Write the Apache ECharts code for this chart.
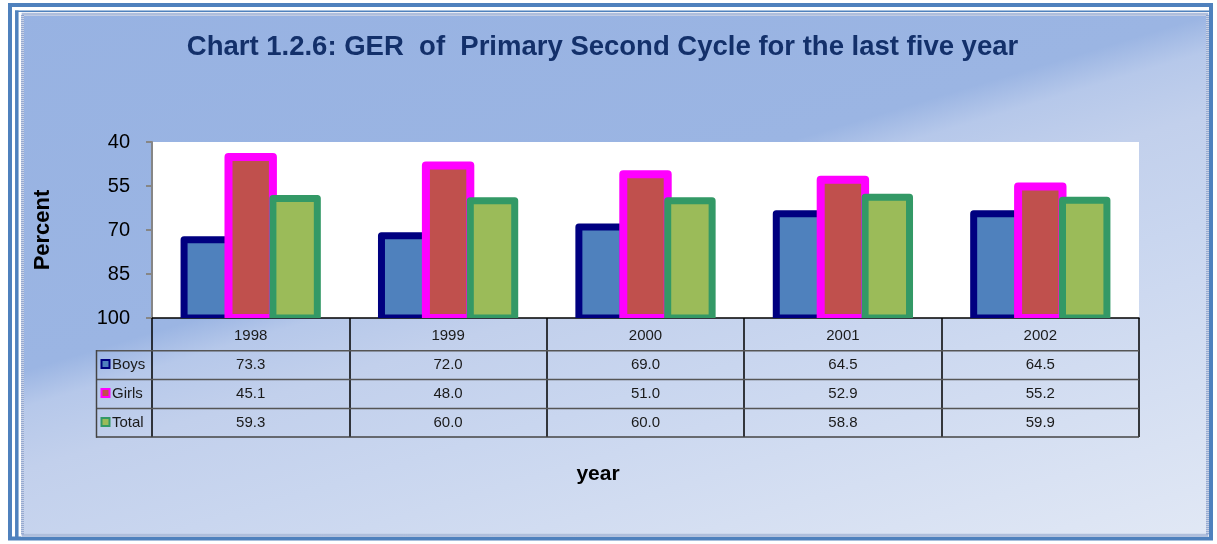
<!DOCTYPE html>
<html><head><meta charset="utf-8">
<script src="https://cdn.jsdelivr.net/npm/echarts@6/dist/echarts.min.js"></script>
<style>html,body{margin:0;padding:0;background:#fff;}#c{width:1217px;height:544px;}</style>
</head><body><div id="c"></div>
<script>
// ---- data ----
const years = ['1998', '1999', '2000', '2001', '2002'];
const seriesNames = ['Boys', 'Girls', 'Total'];
const boys = [73.3, 72.0, 69.0, 64.5, 64.5];
const girls = [45.1, 48.0, 51.0, 52.9, 55.2];
const total = [59.3, 60.0, 60.0, 58.8, 59.9];
const yTicks = [40, 55, 70, 85, 100];
const titleText = 'Chart 1.2.6: GER  of  Primary Second Cycle for the last five year';
const yName = 'Percent';
const xName = 'year';

// ---- styling ----
const FONT = '"Liberation Sans", Arial, Helvetica, sans-serif';
const values = [boys, girls, total];
const fills = ['#4f81bd', '#c0504d', '#9bbb59'];
const borders = ['#000080', '#ff00ff', '#339966'];
const borderW = [7, 8, 7];
const yMin = yTicks[0], yMax = yTicks[yTicks.length - 1];
const rowOffsets = [29.5, 58.5, 87.5];

const chart = echarts.init(document.getElementById('c'), null, {renderer: 'canvas'});

function makeSeries(k) {
  return {
    type: 'custom', name: seriesNames[k], clip: true, z: 2 + k,
    data: years.map((y, i) => [i, values[k][i]]),
    encode: {x: 0, y: 1},
    renderItem(params, api) {
      const i = api.value(0), v = api.value(1);
      const top = api.coord([i, v]);
      const base = api.coord([i, yMax]);
      const band = api.size([1, 0])[0];
      const w = band * 0.225;
      const cx = top[0] + (k - 1) * w;
      return {
        type: 'rect',
        shape: {x: cx - w / 2, y: top[1], width: w, height: base[1] - top[1]},
        style: {fill: fills[k], stroke: borders[k], lineWidth: borderW[k], lineJoin: 'round'}
      };
    }
  };
}

const bgGradient = new echarts.graphic.LinearGradient(0, 0, 248, 826, [
  {offset: 0, color: '#97b2e2'},
  {offset: 0.42, color: '#9bb5e3'},
  {offset: 0.46, color: '#b6c8ea'},
  {offset: 0.53, color: '#c2d0ec'},
  {offset: 0.65, color: '#c9d6ef'},
  {offset: 1, color: '#e1e8f5'}
], true);

function txt(text, x, y, font, fill, align, z) {
  return {type: 'text', z: z || 10, silent: true,
    style: {text: text, x: x, y: y, font: font, fill: fill,
      align: align, verticalAlign: 'middle', textAlign: align, textVerticalAlign: 'middle'}};
}
function line(x1, y1, x2, y2, color, w, z) {
  return {type: 'line', z: z || 10, silent: true, shape: {x1, y1, x2, y2}, style: {stroke: color, lineWidth: w}};
}

const graphics = [
  // frame
  {type: 'rect', z: -20, silent: true, shape: {x: 24, y: 16, width: 1182, height: 519}, style: {fill: bgGradient}},
  {type: 'rect', z: -19, silent: true, shape: {x: 10, y: 5, width: 1201, height: 533.5}, style: {fill: null, stroke: '#4f81bd', lineWidth: 4}},
  line(16.8, 10.5, 16.8, 537, '#4f81bd', 3.5, -19),
  line(15, 11.2, 1209, 11.2, '#4f81bd', 1.5, -19),
  {type: 'rect', z: -18, silent: true, shape: {x: 22.5, y: 14.3, width: 1185, height: 521}, style: {fill: null, stroke: '#dfe5f1', lineWidth: 3}},
  {type: 'rect', z: -17, silent: true, shape: {x: 22.5, y: 14.3, width: 1185, height: 521}, style: {fill: null, stroke: '#7f97c6', lineWidth: 3, lineDash: [1, 1]}},
  // titles
  txt(titleText, 602.5, 47, 'bold 27.5px ' + FONT, '#13306a', 'center'),
  txt(xName, 598, 474, 'bold 21px ' + FONT, '#000', 'center'),
  // table lines
  line(96, 350.7, 1139, 350.7, '#555', 1.5),
  line(96, 379.5, 1139, 379.5, '#555', 1.5),
  line(96, 408.5, 1139, 408.5, '#555', 1.5),
  line(96, 437, 1139, 437, '#444', 1.5),
  line(96.5, 350, 96.5, 437.7, '#444', 1.5)
];
seriesNames.forEach((n, k) => {
  const cy = 365 + k * 29;
  graphics.push({type: 'rect', z: 10, silent: true,
    shape: {x: 101.5, y: cy - 5, width: 8, height: 8},
    style: {fill: fills[k], stroke: borders[k], lineWidth: 2}});
  graphics.push(txt(n, 112, cy - 0.5, '15px ' + FONT, '#1a1a1a', 'left'));
});

const xAxes = [{
  type: 'category', data: years, position: 'bottom', boundaryGap: true,
  axisLine: {show: true, onZero: false, lineStyle: {color: '#000', width: 1.5}},
  axisTick: {show: true, length: 119, lineStyle: {color: '#000', width: 1.5}},
  axisLabel: {fontSize: 15, color: '#1a1a1a', margin: 10, fontFamily: FONT, interval: 0},
  splitLine: {show: false}
}];
values.forEach((arr, k) => {
  xAxes.push({
    type: 'category', data: years, position: 'bottom', offset: rowOffsets[k],
    axisLine: {show: false, onZero: false}, axisTick: {show: false}, splitLine: {show: false},
    axisLabel: {fontSize: 15, color: '#1a1a1a', margin: 10, fontFamily: FONT, interval: 0,
      formatter: (v, idx) => arr[idx].toFixed(1)}
  });
});

chart.setOption({
  backgroundColor: '#fff',
  animation: false,
  textStyle: {fontFamily: FONT},
  grid: {left: 152, top: 142, right: 78, bottom: 226, show: true, backgroundColor: '#fff', borderWidth: 0},
  xAxis: xAxes,
  yAxis: {
    type: 'value', min: yMin, max: yMax, inverse: true,
    axisLine: {show: true, lineStyle: {color: '#868686', width: 2}},
    axisTick: {show: true, length: 6, customValues: yTicks, lineStyle: {color: '#868686', width: 2}},
    axisLabel: {customValues: yTicks, fontSize: 20, color: '#000', margin: 22, fontFamily: FONT},
    splitLine: {show: false},
    name: yName, nameLocation: 'middle', nameGap: 98, nameRotate: 90,
    nameTextStyle: {fontSize: 22, fontWeight: 'bold', color: '#000', fontFamily: FONT}
  },
  series: [0, 1, 2].map(makeSeries),
  graphic: {elements: graphics}
});
</script></body></html>
